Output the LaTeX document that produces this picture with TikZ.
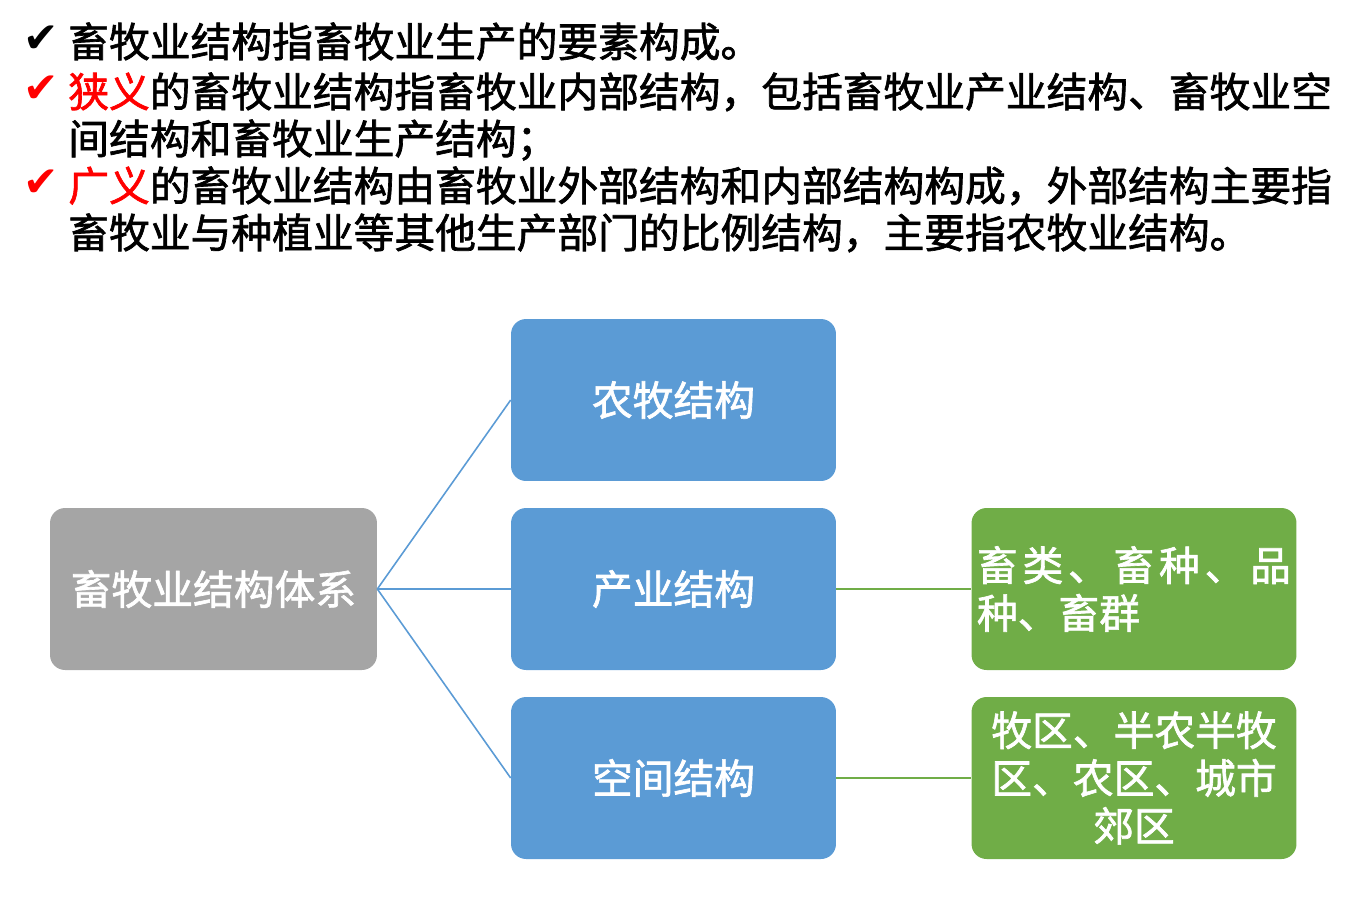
\documentclass[tikz,border=0pt]{standalone}
\usepackage{fontspec}
\setmainfont[FakeBold=1.6]{Noto Sans CJK SC}
\newfontfamily\symbfont{DejaVu Sans}
\newcommand{\grand}{\fontsize{23.2}{27.2}\selectfont}
\definecolor{bleu}{HTML}{5B9BD5}
\definecolor{gris}{HTML}{A5A5A5}
\definecolor{vert}{HTML}{70AD47}
\begin{document}
\begin{tikzpicture}[x=0.02cm, y=-0.02cm]
	\tikzset{boite/.style={rectangle, rounded corners=0.3cm, minimum width=6.5cm, minimum height=3.24cm, text=white, font=\grand, inner sep=0pt},
	lien/.style={line width=0.9pt},
	coche/.style={font=\symbfont\fontsize{24}{24}\selectfont, anchor=base west, inner sep=0pt},
	ligne/.style={font=\grand, anchor=base west, inner sep=0pt}};

	\useasboundingbox (0,0) rectangle (1354,920);

	\node[coche] (c1) at (23,52) {✔};
	\node[coche, text=red] (c2) at (23,102) {✔};
	\node[coche, text=red] (c3) at (23,196) {✔};

	\node[ligne] (l1) at (68,57) {畜牧业结构指畜牧业生产的要素构成。};
	\node[ligne] (l2) at (68,107) {{\color{red}狭义}的畜牧业结构指畜牧业内部结构，包括畜牧业产业结构、畜牧业空};
	\node[ligne] (l3) at (68,154) {间结构和畜牧业生产结构；};
	\node[ligne] (l4) at (68,201) {{\color{red}广义}的畜牧业结构由畜牧业外部结构和内部结构构成，外部结构主要指};
	\node[ligne] (l5) at (68,248) {畜牧业与种植业等其他生产部门的比例结构，主要指农牧业结构。};

	\node[boite, fill=gris, minimum width=6.54cm] (systeme) at (213.5,589) {畜牧业结构体系};

	\foreach \y/\nom/\texte in {400/nongmu/农牧结构, 589/chanye/产业结构, 778/kongjian/空间结构}{
		\node[boite, fill=bleu] (\nom) at (673.5,\y) {\texte};
		\draw[lien, bleu] (systeme.east) -- (\nom.west);
	}

	\node[boite, fill=vert, text width=6.28cm, align=left] (pinzhong) at (1134,589)
	{\makebox[\linewidth][s]{畜\hfil 类\hfil 、\hfil 畜\hfil 种\hfil 、\hfil 品}\\种、畜群};
	\node[boite, fill=vert, text width=6.28cm, align=center] (quyu) at (1134,778)
	{牧区、半农半牧\\区、农区、城市\\郊区};

	\draw[lien, vert] (chanye) -- (pinzhong);
	\draw[lien, vert] (kongjian) -- (quyu);

\end{tikzpicture}
\end{document}
